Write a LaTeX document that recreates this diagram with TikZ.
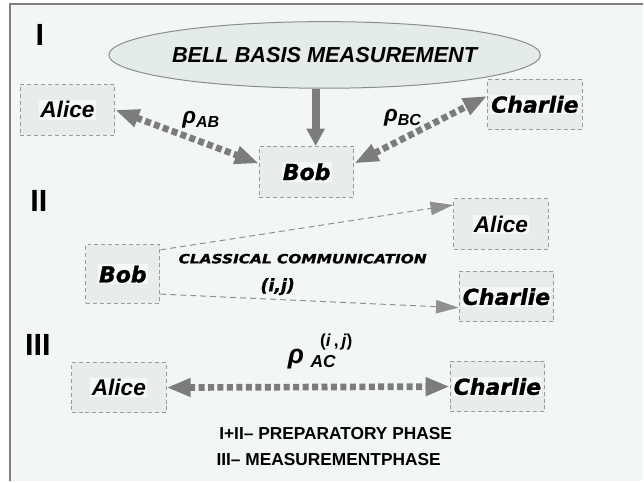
\documentclass[tikz,border=0pt]{standalone}
\usepackage{fontspec}
\setmainfont{Liberation Sans}
\newfontfamily\heavyfont{DejaVu Sans}[FakeBold=1.2]
\newfontfamily\wideheavyfont{DejaVu Sans}[FakeStretch=1.2,FakeBold=1.2]
\usetikzlibrary{shapes.geometric,arrows.meta}
\definecolor{paper}{HTML}{F2F6F7}
\definecolor{frameline}{HTML}{7F7F7F}
\definecolor{boxfill}{HTML}{E7EDED}
\definecolor{boxline}{HTML}{9A9A9A}
\definecolor{textbg}{HTML}{F5F8F8}
\definecolor{ellfill}{HTML}{E4EBEB}
\definecolor{ellline}{HTML}{8C8C8C}
\definecolor{arrowgray}{HTML}{7C7C7C}
\setlength{\fboxsep}{1pt}

\begin{document}
\begin{tikzpicture}[x=0.75pt, y=-0.75pt,
    box/.style={draw=boxline, line width=0.75pt, dash pattern=on 3pt off 2.2pt,
        fill=boxfill, minimum width=71pt, minimum height=38pt, inner sep=0pt},
    lightname/.style={font=\bfseries\itshape\fontsize{17}{19}\selectfont},
    heavyname/.style={font=\heavyfont\bfseries\itshape\fontsize{16.5}{18}\selectfont},
    phase/.style={font=\bfseries\fontsize{23}{26}\selectfont, inner sep=0pt},
    rholabel/.style={font=\bfseries\itshape\fontsize{17}{19}\selectfont, inner sep=0pt},
    note/.style={font=\bfseries\fontsize{13}{15}\selectfont, inner sep=0pt},
    entangle/.style={draw=arrowgray, line width=5pt, dash pattern=on 4.5pt off 2.6pt,
        {Triangle[length=18pt,width=13pt]}-{Triangle[length=18pt,width=13pt]}},
    measure/.style={draw=arrowgray, line width=6pt, -{Triangle[length=13pt,width=13pt]}},
    classical/.style={draw=arrowgray!85, line width=0.75pt, dash pattern=on 4.5pt off 3pt,
        -{Triangle[length=17pt,width=10pt]}}]

    % background and frame
    \fill[white] (0,0) rectangle (644,482);
    \fill[paper] (10,4) rectangle (644,482);
    \draw[frameline, line width=1.1pt] (10,482) -- (10,4) -- (644,4);
    \useasboundingbox (0,0) rectangle (644,482);

    % phase I
    \node[phase] (phaseI) at (40,35) {I};
    \node[ellipse, draw=ellline, line width=0.75pt, fill=ellfill, minimum width=287pt,
        minimum height=50pt, inner sep=0pt, font=\bfseries\itshape\fontsize{16.3}{18}\selectfont]
        (bell) at (325,55) {BELL BASIS MEASUREMENT};
    \node[box, lightname] (aliceI) at (67.5,110) {\colorbox{textbg}{Alice}};
    \node[box, heavyname] (bobI) at (307,172) {\colorbox{textbg}{Bob}};
    \node[box, heavyname] (charlieI) at (535.5,104.5) {\colorbox{textbg}{Charlie}};
    \draw[entangle] (aliceI.east) -- (bobI.170);
    \draw[entangle] (bobI.10) -- (charlieI.170);
    \draw[measure] ([xshift=-6.75pt]bell.south) -- ([xshift=-6.75pt]bell.south |- bobI.north);
    \node[rholabel] (rhoAB) at (201,120) {ρ\raisebox{-3pt}{\fontsize{12}{13}\selectfont AB}};
    \node[rholabel] (rhoBC) at (403,118) {ρ\raisebox{-3pt}{\fontsize{12}{13}\selectfont BC}};

    % phase II
    \node[phase] (phaseII) at (39,201) {II};
    \node[box, heavyname, minimum width=55.5pt, minimum height=44pt] (bobII) at (123,274.5) {\colorbox{textbg}{Bob}};
    \node[box, lightname] (aliceII) at (501.5,224.5) {\colorbox{textbg}{Alice}};
    \node[box, heavyname] (charlieII) at (507,297) {\colorbox{textbg}{Charlie}};
    \draw[classical] (bobII.33) -- (aliceII.158);
    \draw[classical] (bobII.-28) -- (charlieII.193);
    \node[font=\wideheavyfont\bfseries\itshape\fontsize{9.6}{11}\selectfont, inner sep=0pt]
        (classic) at (303,259) {CLASSICAL COMMUNICATION};
    \node[font=\heavyfont\bfseries\itshape\fontsize{13}{15}\selectfont, inner sep=0pt]
        (indices) at (278,287) {(i,j)};

    % phase III
    \node[phase] (phaseIII) at (38,345) {III};
    \node[box, lightname] (aliceIII) at (119,388) {\colorbox{textbg}{Alice}};
    \node[box, heavyname] (charlieIII) at (498,387) {\colorbox{textbg}{Charlie}};
    \draw[entangle] (aliceIII.east) -- (charlieIII.west);
    \node[rholabel, anchor=base west, font=\bfseries\itshape\fontsize{20}{22}\selectfont] (rhoAC) at (288,364)
        {ρ\hspace{5pt}\rlap{\raisebox{-3pt}{\fontsize{13}{14}\selectfont AC}}\hspace{7pt}\raisebox{13pt}{\fontsize{13}{14}\selectfont\upshape(\textit{i}\,,\,\textit{j})}};

    \node[note] (prep) at (336,434) {I+II– PREPARATORY  PHASE};
    \node[note] (meas) at (329,460) {III– MEASUREMENTPHASE};
\end{tikzpicture}
\end{document}
